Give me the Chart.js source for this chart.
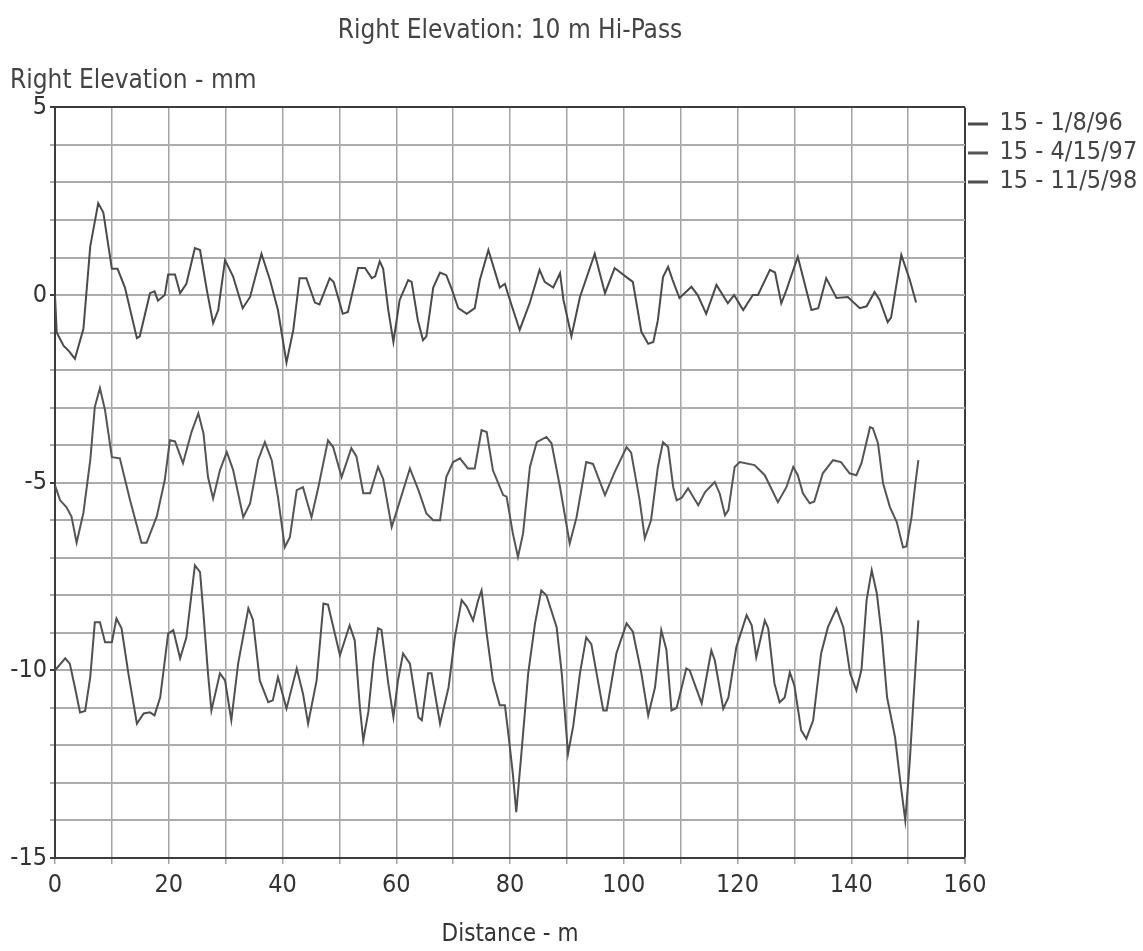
<!DOCTYPE html>
<html>
<head>
<meta charset="utf-8">
<script src="https://cdn.jsdelivr.net/npm/chart.js@4"></script>
<style>
  html, body { margin: 0; padding: 0; background: #fff; }
  #wrap { position: relative; width: 1143px; height: 951px; }
</style>
</head>
<body>
<div id="wrap"><canvas id="chart"></canvas></div>
<script>
const seriesLabels = ["15 - 1/8/96", "15 - 4/15/97", "15 - 11/5/98"];
const lineColors = ["#4a4a4a", "#555555", "#505050"];

// 15 - 1/8/96
const dist1 = [0,0.3,1.5,2.5,3.5,5,6.2,7.6,8.5,10,11,12.3,14.4,14.9,16.7,17.5,18.1,19.3,19.9,21.1,22,23.1,24.6,25.5,26.7,27.8,28.7,29.9,31.3,33,34.3,36.3,37.8,39.2,40.7,41.9,43,44.2,45.7,46.5,48.3,49,50.6,51.5,53.3,54.5,55.7,56.3,57.1,57.7,58.6,59.5,60.6,62.1,62.7,63.8,64.7,65.3,66.5,67.7,68.8,69.7,70.9,72.4,73.8,74.7,76.2,77.1,78.2,79.1,79.7,81.7,83.5,85.2,86.1,87.6,88.8,89.4,90.8,92.3,94.9,96.7,98.4,100.7,101.6,103.1,104.3,105.2,106,106.9,107.8,108.6,109.8,111.9,113,114.5,116.3,118.3,119.4,121,122.7,123.6,125.7,126.6,127.7,128.6,130.6,133,134.2,135.6,137.4,139.4,141.5,142.7,144.1,145,146.4,147,148.8,150.3,151.4];
const elev1 = [0,-1.0,-1.35,-1.5,-1.7,-0.9,1.3,2.45,2.2,0.7,0.7,0.2,-1.15,-1.1,0.05,0.1,-0.15,0,0.55,0.55,0.05,0.3,1.25,1.2,0.13,-0.75,-0.4,0.93,0.5,-0.35,-0.05,1.1,0.4,-0.4,-1.8,-0.93,0.45,0.45,-0.2,-0.25,0.45,0.35,-0.5,-0.45,0.72,0.72,0.45,0.5,0.9,0.7,-0.4,-1.25,-0.13,0.4,0.35,-0.67,-1.2,-1.1,0.2,0.6,0.53,0.18,-0.35,-0.5,-0.35,0.4,1.2,0.75,0.2,0.3,0,-0.93,-0.2,0.67,0.35,0.2,0.58,-0.13,-1.1,-0.05,1.1,0.05,0.72,0.45,0.35,-0.98,-1.3,-1.25,-0.67,0.48,0.75,0.4,-0.08,0.22,0,-0.5,0.27,-0.22,0,-0.4,0,0,0.67,0.6,-0.22,0.13,1.02,-0.4,-0.35,0.45,-0.08,-0.05,-0.35,-0.3,0.08,-0.13,-0.72,-0.6,1.07,0.4,-0.2];

// 15 - 4/15/97
const dist2 = [0,0.9,2,2.9,3.8,5,6.2,7,7.9,8.8,10,11.4,13.2,15.2,16.1,17.9,19.3,20.2,21.1,22.5,24,25.2,26.1,26.9,27.8,29,30.2,31.3,33.1,34.3,35.7,36.9,38.1,39.2,40.4,41.3,42.5,43.6,45.1,46.3,48,48.9,50.4,52.1,53,54.2,55.4,56.8,57.7,59.2,60.3,62.4,63.9,65.3,66.5,67.7,68.8,70,71.2,72.6,73.8,75,75.9,77,78.8,79.4,80.5,81.4,82.3,83.5,84.7,86.4,87.3,88.8,90.5,91.7,93.4,94.6,96.7,98.4,100.5,101.3,102.8,103.7,104.8,106,106.9,107.8,108.7,109.3,110.2,111.3,113.1,114.3,116,116.9,117.8,118.4,119.5,120.4,123,124.8,127.1,128.6,129.8,130.6,131.5,132.7,133.5,135,136.8,138.2,139.7,140.9,141.8,143.3,143.8,144.7,145.6,146.8,148,149.1,149.7,150.6,151.2,151.8];
const elev2 = [-5.07,-5.47,-5.65,-5.9,-6.6,-5.8,-4.4,-2.98,-2.48,-3.07,-4.32,-4.35,-5.47,-6.6,-6.6,-5.9,-4.93,-3.87,-3.9,-4.48,-3.65,-3.15,-3.68,-4.85,-5.42,-4.67,-4.18,-4.65,-5.92,-5.55,-4.4,-3.92,-4.4,-5.38,-6.72,-6.45,-5.2,-5.12,-5.92,-5.12,-3.87,-4.05,-4.85,-4.08,-4.3,-5.28,-5.28,-4.58,-4.9,-6.18,-5.65,-4.62,-5.2,-5.82,-6,-6,-4.85,-4.45,-4.35,-4.62,-4.62,-3.6,-3.65,-4.67,-5.33,-5.37,-6.35,-6.98,-6.35,-4.58,-3.92,-3.78,-3.95,-5.12,-6.62,-5.92,-4.45,-4.5,-5.33,-4.72,-4.05,-4.2,-5.47,-6.48,-6,-4.58,-3.92,-4.05,-5.12,-5.47,-5.4,-5.15,-5.6,-5.25,-4.98,-5.3,-5.87,-5.73,-4.58,-4.45,-4.53,-4.8,-5.52,-5.12,-4.58,-4.8,-5.28,-5.55,-5.5,-4.75,-4.4,-4.45,-4.75,-4.8,-4.48,-3.52,-3.55,-3.95,-5.02,-5.65,-6.05,-6.72,-6.7,-5.92,-5.12,-4.4];

// 15 - 11/5/98
const dist3 = [0,1.8,2.6,3.5,4.4,5.3,6.2,7,7.9,8.8,10,10.8,11.7,12.9,14.4,15.6,16.7,17.5,18.5,19.9,20.8,22,23.1,24.6,25.5,26.1,26.9,27.5,29,29.9,31,32.2,34,34.8,36,37.5,38.3,39.2,40.7,42.5,43.6,44.5,46,47.2,48,49.2,50.1,51.8,52.7,53.6,54.2,55.1,56,56.8,57.4,58.6,59.5,60.3,61.2,62.4,63.9,64.5,65.6,66.2,67.7,69.2,70.3,71.5,72.4,73.5,74.4,75,75.9,77,78.2,79.1,79.7,80.5,81.1,82,83.2,84.4,85.5,86.4,88.2,89.1,90.2,91.1,92.3,93.4,94.3,96.4,97,98.7,100.5,101.6,103.1,104.3,105.5,106.6,107.5,108.4,109.3,111,111.6,113.7,115.4,116,117.5,118.4,119.8,121.6,122.5,123.3,124.8,125.4,126.5,127.4,128.3,129.2,130,131.2,132.1,133.3,134.7,135.9,137.4,138.6,139.8,140.9,141.8,142.7,143.6,144.5,145.4,146.3,147.7,148.6,149.5,150.3,150.9,151.8];
const elev3 = [-10,-9.68,-9.82,-10.45,-11.12,-11.08,-10.18,-8.72,-8.72,-9.25,-9.25,-8.62,-8.88,-10.08,-11.42,-11.15,-11.12,-11.2,-10.72,-9.02,-8.93,-9.68,-9.12,-7.2,-7.38,-8.48,-10.08,-11.07,-10.08,-10.27,-11.33,-9.82,-8.35,-8.65,-10.27,-10.85,-10.8,-10.18,-11.02,-9.95,-10.62,-11.42,-10.27,-8.22,-8.25,-9.02,-9.6,-8.8,-9.2,-10.98,-11.87,-11.1,-9.73,-8.88,-8.92,-10.35,-11.25,-10.27,-9.55,-9.82,-11.25,-11.33,-10.08,-10.08,-11.42,-10.45,-9.12,-8.13,-8.3,-8.67,-8.13,-7.87,-9.02,-10.27,-10.93,-10.93,-11.68,-12.75,-13.78,-12.22,-10.08,-8.75,-7.87,-8,-8.85,-10.08,-12.22,-11.5,-10.08,-9.12,-9.3,-11.07,-11.07,-9.55,-8.75,-8.97,-10.08,-11.2,-10.45,-8.93,-9.45,-11.07,-11,-9.95,-10,-10.88,-9.47,-9.73,-11.02,-10.72,-9.38,-8.53,-8.8,-9.65,-8.67,-8.88,-10.35,-10.85,-10.72,-10.05,-10.4,-11.6,-11.82,-11.33,-9.55,-8.85,-8.35,-8.85,-10.08,-10.53,-9.98,-8.13,-7.33,-7.95,-9.12,-10.72,-11.78,-12.93,-14,-12.4,-10.88,-8.67];

const xMin = 0, xMax = 160, xStep = 10, xLabelEvery = 20;
const yMin = -15, yMax = 5, yStep = 1, yLabelEvery = 5;

const FONT = "'Liberation Sans Narrow', 'DejaVu Sans Condensed', 'Liberation Sans', Arial, sans-serif";
const frameColor = "#3c3c3c";

function points(xs, ys) {
  return xs.map((x, i) => ({ x: x, y: ys[i] }));
}

const allDist = [dist1, dist2, dist3];
const allElev = [elev1, elev2, elev3];
const datasets = seriesLabels.map((lab, i) => ({
  label: lab,
  data: points(allDist[i], allElev[i]),
  borderColor: lineColors[i],
  backgroundColor: lineColors[i],
  borderWidth: 2,
  pointRadius: 0,
  tension: 0,
  fill: false
}));

new Chart(document.getElementById("chart"), {
  type: "line",
  data: { datasets: datasets },
  options: {
    responsive: true,
    maintainAspectRatio: false,
    animation: false,
    layout: { padding: { left: 10, top: 0, right: 0, bottom: 0 } },
    scales: {
      x: {
        type: "linear",
        min: xMin,
        max: xMax,
        afterFit: (scale) => { scale.height = 93; },
        ticks: {
          stepSize: xStep,
          autoSkip: false,
          maxRotation: 0,
          padding: 6,
          color: "#333",
          font: { family: FONT, size: 25 },
          callback: (v) => (v % xLabelEvery === 0 ? v : "")
        },
        grid: {
          color: (c) => (c.tick && c.tick.value === xMax ? frameColor : "#a4a4a4"),
          lineWidth: (c) => (c.tick && c.tick.value === xMax ? 2 : 1.5),
          tickLength: 6,
          tickColor: "#a4a4a4"
        },
        border: { color: frameColor, width: 2 },
        title: {
          display: true,
          text: "Distance - m",
          color: "#333",
          font: { family: FONT, size: 24 },
          padding: { top: 0, bottom: 2 }
        }
      },
      y: {
        min: yMin,
        max: yMax,
        afterFit: (scale) => { scale.width = 45; },
        ticks: {
          stepSize: yStep,
          autoSkip: false,
          padding: 3,
          color: "#333",
          font: { family: FONT, size: 25 },
          callback: (v) => (v % yLabelEvery === 0 ? v : "")
        },
        grid: {
          color: (c) => (c.tick && c.tick.value === yMax ? frameColor : "#acacac"),
          lineWidth: 2,
          tickLength: 5,
          tickColor: (c) => (c.tick && c.tick.value % yLabelEvery === 0 ? frameColor : "#acacac")
        },
        border: { color: frameColor, width: 2 }
      }
    },
    plugins: {
      title: {
        display: true,
        text: "Right Elevation: 10 m Hi-Pass",
        fullSize: false,
        color: "#444",
        font: { family: FONT, size: 26, weight: "normal" },
        padding: { top: 16, bottom: 10 }
      },
      subtitle: {
        display: true,
        text: "Right Elevation - mm",
        align: "start",
        color: "#444",
        font: { family: FONT, size: 26 },
        padding: { top: 8, bottom: 11 }
      },
      legend: {
        display: true,
        position: "right",
        align: "start",
        fullSize: false,
        maxWidth: 178,
        labels: {
          color: "#444",
          font: { family: FONT, size: 25 },
          boxWidth: 18,
          boxHeight: 1,
          padding: 4
        }
      },
      tooltip: { enabled: false }
    }
  }
});
</script>
</body>
</html>
